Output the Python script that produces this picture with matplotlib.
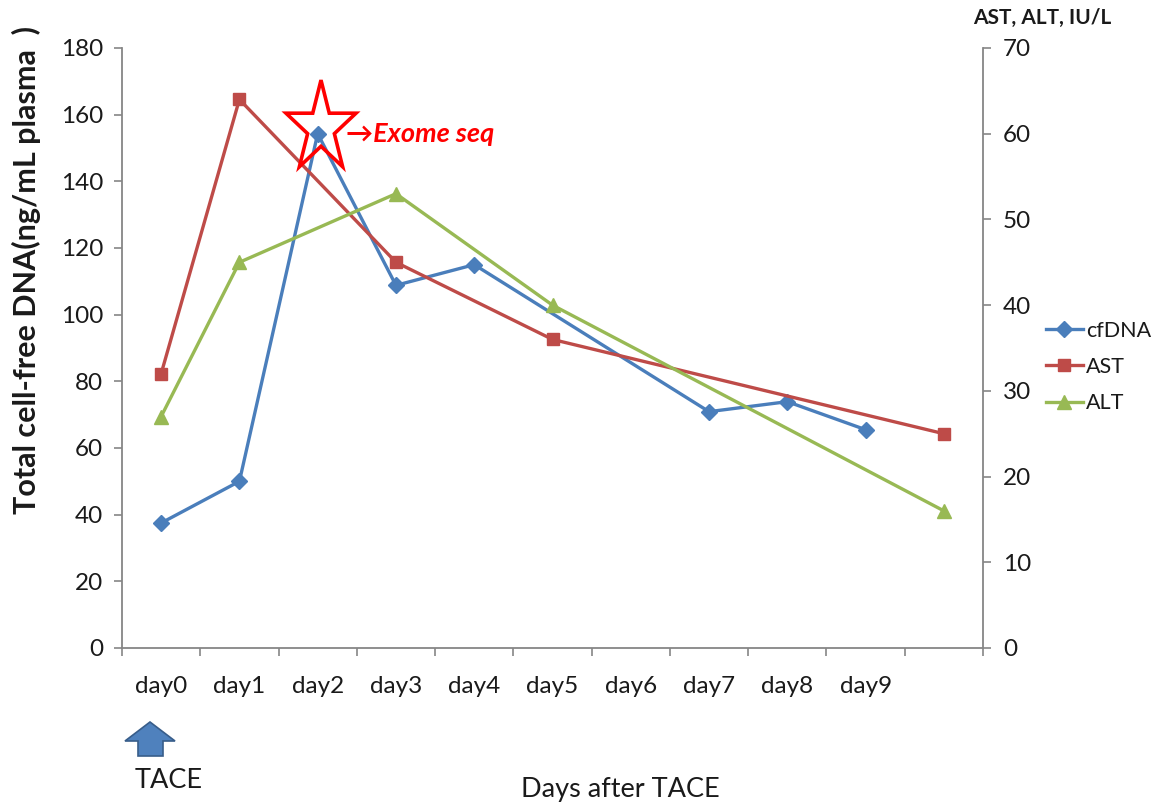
import numpy as np
import matplotlib
matplotlib.use("Agg")
import matplotlib.pyplot as plt
from matplotlib.patches import Polygon

plt.rcParams['font.family'] = ['Lato', 'DejaVu Sans']

# ---- data ----
categories = ["day0", "day1", "day2", "day3", "day4", "day5", "day6", "day7", "day8", "day9", ""]
cfdna = [37.5, 50, 154.3, 108.8, 115, np.nan, np.nan, 70.9, 73.9, 65.5, np.nan]
ast = [32, 64, np.nan, 45, np.nan, 36, np.nan, np.nan, np.nan, np.nan, 25]
alt = [27, 45, np.nan, 53, np.nan, 40, np.nan, np.nan, np.nan, np.nan, 16]
left_ticks = list(range(0, 181, 20))
right_ticks = list(range(0, 71, 10))

C_BLUE = "#4A7EBB"
C_RED = "#BE4B48"
C_GREEN = "#98B954"
C_AX = "#868686"
C_TXT = "#1a1a1a"

fig = plt.figure(figsize=(11.62, 8.08), dpi=100)
ax = fig.add_axes([122/1162, 1-648/808, (983-122)/1162, 600/808])
ax2 = ax.twinx()

x = np.arange(len(categories))

def plot_connected(a, vals, **kw):
    v = np.array(vals, dtype=float)
    m = ~np.isnan(v)
    return a.plot(x[m], v[m], **kw)[0]

lw = 2.4
h1 = plot_connected(ax, cfdna, color=C_BLUE, lw=lw, marker="D", ms=8, label="cfDNA", zorder=3)
h2 = plot_connected(ax2, ast, color=C_RED, lw=lw, marker="s", ms=9, label="AST", zorder=3)
h3 = plot_connected(ax2, alt, color=C_GREEN, lw=lw, marker="^", ms=10, label="ALT", zorder=3)

ax.set_xlim(-0.5, len(categories) - 0.5)
ax.set_ylim(0, 180)
ax2.set_ylim(0, 70)
ax.set_yticks(left_ticks)
ax2.set_yticks(right_ticks)

ax.set_xticks(x)
ax.set_xticklabels(categories, fontsize=17.5, color=C_TXT)
ax.set_xticks(np.arange(-0.5, len(categories)), minor=True)
ax.tick_params(axis="x", which="major", length=0, pad=20)
ax.tick_params(axis="x", which="minor", length=6, color=C_AX, width=1.2)
ax.tick_params(axis="y", length=5.5, color=C_AX, width=1.2, labelsize=17.5, labelcolor=C_TXT, pad=8)
ax2.tick_params(axis="y", length=5.5, color=C_AX, width=1.2, labelsize=17.5, labelcolor=C_TXT, pad=9)

for a in (ax, ax2):
    a.spines["top"].set_visible(False)
    for s in ("left", "right", "bottom"):
        a.spines[s].set_color(C_AX)
        a.spines[s].set_linewidth(1.3)
ax.spines["right"].set_visible(False)
ax2.spines["left"].set_visible(False)
ax2.spines["bottom"].set_visible(False)

fig.text(26/1162, 1-270/808, "Total cell-free DNA(ng/mL plasma  )", fontsize=22, fontweight="bold",
         rotation=90, ha="center", va="center", color=C_TXT)
fig.text(1042/1162, 1-18/808, "AST, ALT, IU/L", fontsize=15, fontweight="bold",
         ha="center", va="center", color=C_TXT)

# star annotation (drawn in figure pixel space)
def px(xp, yp):
    return (xp/100, (808-yp)/100)

cx, cy, rx, ry, rin = 321, 128, 36.8, 47.9, 0.382
star = []
for k in range(10):
    ang = np.pi/2 + k*np.pi/5
    r = 1.0 if k % 2 == 0 else rin
    star.append(px(cx + rx*r*np.cos(ang), cy - ry*r*np.sin(ang)))
fig.add_artist(Polygon(star, closed=True, facecolor="none", edgecolor="#FF0000", lw=2.6,
                       transform=fig.dpi_scale_trans, zorder=5))
fig.text(346/1162, 1-134/808, "\u2192Exome seq", color="#FF0000", fontsize=19.5, fontweight="bold",
         fontstyle="italic", va="center", ha="left")

# legend
leg = fig.legend(handles=[h1, h2, h3], loc="center left", bbox_to_anchor=(1046/1162, 1-367/808),
                 frameon=False, fontsize=15.5, handlelength=1.7, labelspacing=0.75,
                 handletextpad=0.15, borderaxespad=0, borderpad=0)
for t in leg.get_texts():
    t.set_color(C_TXT)

# TACE arrow
arrow_pts = [px(150, 722), px(175, 741), px(163, 741), px(163, 756), px(138, 756), px(138, 741), px(125, 741)]
fig.add_artist(Polygon(arrow_pts, closed=True, facecolor="#4F81BD", edgecolor="#385D8A",
                       lw=1.2, transform=fig.dpi_scale_trans))
fig.text(169/1162, 1-781/808, "TACE", fontsize=19.5, ha="center", va="center", color=C_TXT)
fig.text(620/1162, 1-790/808, "Days after TACE", fontsize=19.5, ha="center", va="center", color=C_TXT)

fig.savefig("out.png", dpi=100)
